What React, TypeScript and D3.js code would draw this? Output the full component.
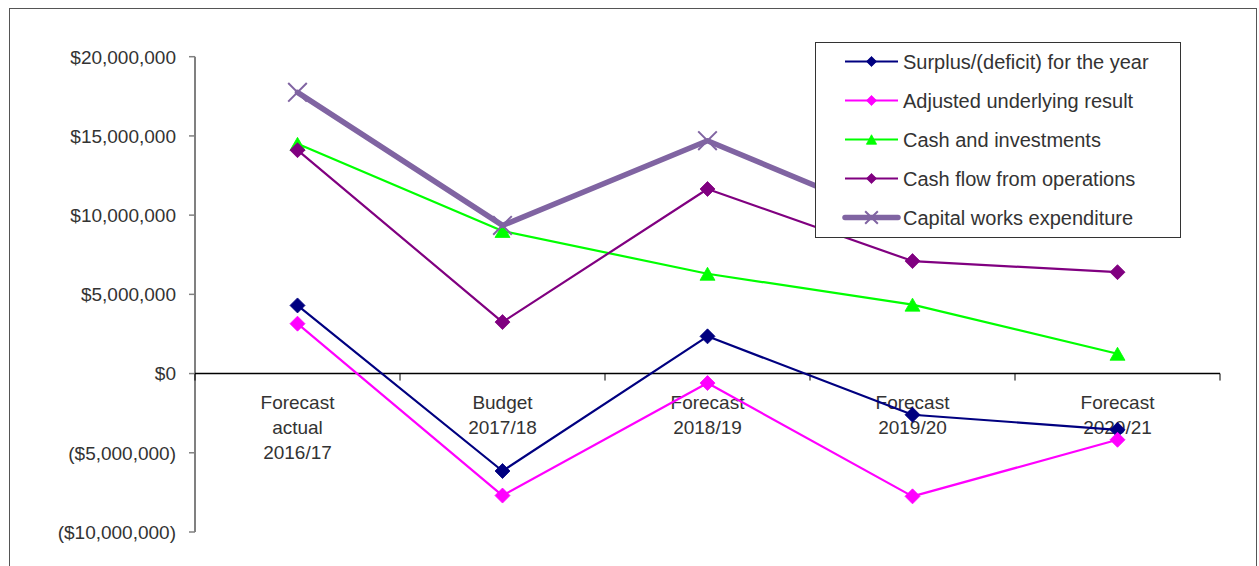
import React from "react";
import * as d3 from "d3";

// Category labels (line breaks split into tspans)
const categories = [
  "Forecast\nactual\n2016/17",
  "Budget\n2017/18",
  "Forecast\n2018/19",
  "Forecast\n2019/20",
  "Forecast\n2020/21",
];

// Series values in dollars
const surplusDeficit = [4300000, -6150000, 2350000, -2600000, -3550000];
const adjustedUnderlying = [3150000, -7700000, -600000, -7750000, -4180000];
const cashInvestments = [14500000, 9000000, 6300000, 4350000, 1250000];
const cashFlowOperations = [14100000, 3250000, 11650000, 7100000, 6400000];
const capitalWorks = [17750000, 9350000, 14700000, 9300000, 10200000];

const seriesNames = [
  "Surplus/(deficit) for the year",
  "Adjusted underlying result",
  "Cash and investments",
  "Cash flow from operations",
  "Capital works expenditure",
];

const yTicks = [-10000000, -5000000, 0, 5000000, 10000000, 15000000, 20000000];

type MarkerKind = "diamond" | "triangle" | "cross";

const series = [
  { name: seriesNames[0], values: surplusDeficit, color: "#000080", width: 2.2, marker: "diamond" as MarkerKind },
  { name: seriesNames[1], values: adjustedUnderlying, color: "#ff00ff", width: 2.2, marker: "diamond" as MarkerKind },
  { name: seriesNames[2], values: cashInvestments, color: "#00ff00", width: 2.2, marker: "triangle" as MarkerKind },
  { name: seriesNames[3], values: cashFlowOperations, color: "#800080", width: 2.2, marker: "diamond" as MarkerKind },
  { name: seriesNames[4], values: capitalWorks, color: "#8064a2", width: 5.5, marker: "cross" as MarkerKind },
];

const FONT = "'Liberation Sans', Arial, sans-serif";

function markerPath(kind: MarkerKind, scale: number) {
  if (kind === "diamond") {
    const r = 7.5 * scale;
    return `M0,${-r}L${r},0L0,${r}L${-r},0Z`;
  }
  if (kind === "triangle") {
    const w = 15 * scale;
    const h = 11 * scale;
    return `M0,${-h / 2 - 1}L${w / 2},${h / 2 + 1}L${-w / 2},${h / 2 + 1}Z`;
  }
  const r = 9.3 * scale;
  return `M${-r},${-r}L${r},${r}M${-r},${r}L${r},${-r}`;
}

function Marker({ kind, color, x, y, scale = 1 }: { kind: MarkerKind; color: string; x: number; y: number; scale?: number }) {
  const d = markerPath(kind, scale);
  if (kind === "cross") {
    return <path d={d} transform={`translate(${x},${y})`} stroke={color} strokeWidth={2} fill="none" />;
  }
  return <path d={d} transform={`translate(${x},${y})`} fill={color} stroke={color} strokeWidth={0.8} />;
}

export default function App() {
  const width = 1259;
  const height = 566;

  const x = d3.scaleBand<string>().domain(categories).range([195, 1220]);
  const y = d3.scaleLinear().domain([-10000000, 20000000]).range([532, 56.7]);
  const cx = (i: number) => (x(categories[i]) as number) + x.bandwidth() / 2;

  const line = d3
    .line<number>()
    .x((_, i) => cx(i))
    .y((d) => y(d));

  const money = d3.format("$,.0f");
  const fmt = (v: number) => (v < 0 ? `(${money(Math.abs(v))})` : money(v));

  const y0 = y(0);
  const boundaries = [...categories.map((c) => x(c) as number), 1220];

  // Legend geometry
  const legX = 815;
  const legY = 42;
  const legW = 365;
  const legH = 195;
  const rowY = (i: number) => 61.5 + i * 39;

  return (
    <svg
      width={width}
      height={height}
      style={{ position: "absolute", left: 0, top: 0, background: "#fff" }}
      fontFamily={FONT}
    >
      <rect x={0} y={0} width={width} height={height} fill="#fff" />
      {/* Outer chart frame */}
      <rect x={9.5} y={8.5} width={1247} height={700} fill="none" stroke="#555" strokeWidth={1} />

      {/* Y axis */}
      <line x1={195} x2={195} y1={y(20000000)} y2={y(-10000000)} stroke="#808080" strokeWidth={2} />
      {yTicks.map((t) => (
        <g key={t}>
          <line x1={189} x2={195} y1={y(t)} y2={y(t)} stroke="#808080" strokeWidth={1.5} />
          <text x={176} y={y(t)} dy="0.36em" textAnchor="end" fontSize={19} fill="#333">
            {fmt(t)}
          </text>
        </g>
      ))}

      {/* X axis at zero */}
      <line x1={195} x2={1220} y1={y0} y2={y0} stroke="#000" strokeWidth={1.5} />
      {boundaries.map((b, i) => (
        <line key={i} x1={b} x2={b} y1={y0} y2={y0 + 7} stroke="#000" strokeWidth={1} />
      ))}
      {categories.map((c, i) => (
        <text key={c} x={cx(i)} y={y0 + 35} textAnchor="middle" fontSize={19} fill="#333">
          {c.split("\n").map((ln, j) => (
            <tspan key={j} x={cx(i)} dy={j === 0 ? 0 : 25}>
              {ln}
            </tspan>
          ))}
        </text>
      ))}

      {/* Series */}
      {series.map((s) => (
        <g key={s.name}>
          <path
            d={line(s.values) as string}
            fill="none"
            stroke={s.color}
            strokeWidth={s.width}
            strokeLinejoin="round"
            strokeLinecap="round"
          />
          {s.values.map((v, i) => (
            <Marker key={i} kind={s.marker} color={s.color} x={cx(i)} y={y(v)} />
          ))}
        </g>
      ))}

      {/* Legend */}
      <rect x={legX + 0.5} y={legY + 0.5} width={legW} height={legH} fill="#fff" stroke="#333" strokeWidth={1} />
      {series.map((s, i) => (
        <g key={s.name}>
          <line
            x1={845}
            x2={898}
            y1={rowY(i)}
            y2={rowY(i)}
            stroke={s.color}
            strokeWidth={s.width}
            strokeLinecap={s.marker === "cross" ? "round" : "butt"}
          />
          <Marker kind={s.marker} color={s.color} x={871.5} y={rowY(i)} scale={0.68} />
          <text x={903} y={rowY(i)} dy="0.36em" fontSize={20} fill="#333">
            {s.name}
          </text>
        </g>
      ))}
    </svg>
  );
}
